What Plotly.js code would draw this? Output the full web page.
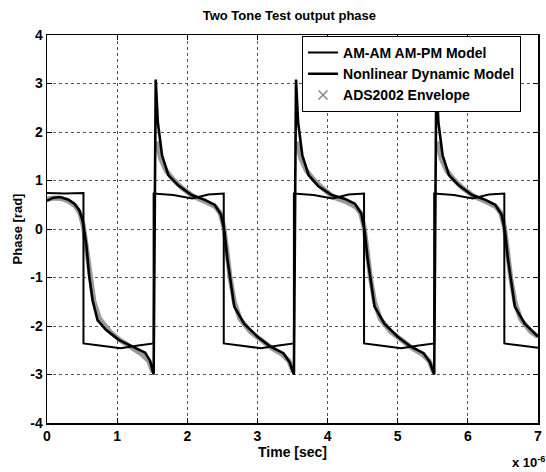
<!DOCTYPE html>
<html>
<head>
<meta charset="utf-8">
<script src="https://cdn.plot.ly/plotly-3.0.1.min.js"></script>
<style>html,body{margin:0;padding:0;background:#fff;}#chart{width:546px;height:472px;}</style>
</head>
<body>
<div id="chart"></div>
<script>
// Time in units of 1e-6 s
const amX = [0, 0.25, 0.52, 0.52, 0.75, 1.05, 1.30, 1.52, 1.52, 1.80, 2.07, 2.30, 2.52, 2.52, 2.75, 3.05, 3.30, 3.52, 3.52, 3.80, 4.07, 4.30, 4.52, 4.52, 4.75, 5.05, 5.30, 5.52, 5.52, 5.80, 6.07, 6.30, 6.52, 6.52, 6.75, 7.00];
const amY = [0.74, 0.73, 0.74, -2.36, -2.40, -2.46, -2.40, -2.36, 0.73, 0.70, 0.63, 0.71, 0.73, -2.36, -2.40, -2.46, -2.40, -2.36, 0.73, 0.70, 0.63, 0.71, 0.73, -2.36, -2.40, -2.46, -2.40, -2.36, 0.73, 0.70, 0.63, 0.71, 0.73, -2.36, -2.40, -2.45];

const nlX = [0, 0.08, 0.18, 0.30, 0.39, 0.46, 0.51, 0.56, 0.60, 0.65, 0.72, 0.84, 1.03, 1.22, 1.40, 1.47, 1.52,
  1.55, 1.58, 1.64, 1.73, 1.87, 2.06, 2.25, 2.39, 2.48, 2.53, 2.57, 2.62, 2.67, 2.81, 3.00, 3.18, 3.37, 3.46, 3.52,
  3.55, 3.58, 3.64, 3.73, 3.87, 4.06, 4.25, 4.39, 4.48, 4.53, 4.57, 4.62, 4.67, 4.81, 5.00, 5.18, 5.37, 5.46, 5.52,
  5.55, 5.58, 5.64, 5.73, 5.87, 6.06, 6.25, 6.39, 6.48, 6.53, 6.57, 6.62, 6.67, 6.81, 7.00];
const nlY = [0.58, 0.64, 0.66, 0.61, 0.52, 0.39, 0.16, -0.32, -0.95, -1.47, -1.88, -2.08, -2.29, -2.43, -2.55, -2.72, -3.00,
  3.08, 2.20, 1.52, 1.11, 0.90, 0.70, 0.60, 0.50, 0.30, -0.05, -0.60, -1.10, -1.60, -1.95, -2.22, -2.42, -2.56, -2.75, -3.00,
  3.08, 2.20, 1.52, 1.11, 0.88, 0.70, 0.62, 0.52, 0.32, -0.05, -0.60, -1.10, -1.60, -1.95, -2.22, -2.42, -2.56, -2.75, -3.00,
  3.08, 2.20, 1.52, 1.11, 0.90, 0.70, 0.60, 0.50, 0.30, -0.05, -0.60, -1.10, -1.60, -1.95, -2.22];

const adX = [0, 0.10, 0.20, 0.30, 0.40, 0.47, 0.52, 0.56, 0.61, 0.67, 0.75, 0.90, 1.05, 1.20, 1.35, 1.45, 1.51, null,
  1.56, 1.62, 1.70, 1.80, 1.93, 2.08, 2.25, 2.40, 2.47, 2.52, 2.56, 2.61, 2.67, 2.75, 2.90, 3.05, 3.20, 3.35, 3.45, 3.51, null,
  3.56, 3.62, 3.70, 3.80, 3.93, 4.08, 4.25, 4.40, 4.47, 4.52, 4.56, 4.61, 4.67, 4.75, 4.90, 5.05, 5.20, 5.35, 5.45, 5.51, null,
  5.56, 5.62, 5.70, 5.80, 5.93, 6.08, 6.25, 6.40, 6.47, 6.52, 6.56, 6.61, 6.67, 6.75, 6.90, 7.00];
const adY = [0.62, 0.64, 0.63, 0.58, 0.48, 0.33, 0.05, -0.40, -1.00, -1.50, -1.85, -2.12, -2.30, -2.45, -2.58, -2.72, -2.95, null,
  1.80, 1.45, 1.20, 1.02, 0.84, 0.68, 0.57, 0.46, 0.33, 0.05, -0.40, -1.00, -1.50, -1.85, -2.12, -2.30, -2.45, -2.58, -2.72, -2.95, null,
  1.80, 1.45, 1.20, 1.02, 0.84, 0.66, 0.57, 0.46, 0.33, 0.05, -0.40, -1.00, -1.50, -1.85, -2.12, -2.30, -2.45, -2.58, -2.72, -2.95, null,
  1.80, 1.45, 1.20, 1.02, 0.84, 0.68, 0.57, 0.46, 0.33, 0.05, -0.40, -1.00, -1.50, -1.85, -2.12, -2.22];

const seriesNames = ["AM-AM AM-PM Model", "Nonlinear Dynamic Model", "ADS2002 Envelope"];
const xTicks = [0, 1, 2, 3, 4, 5, 6, 7];
const yTicks = [-4, -3, -2, -1, 0, 1, 2, 3, 4];

const FONT = "Liberation Sans, Arial, Helvetica, sans-serif";

const traces = [
  {x: adX, y: adY, mode: "lines", line: {color: "#9a9a9a", width: 5}, showlegend: false, hoverinfo: "skip", connectgaps: false},
  {x: amX, y: amY, mode: "lines", name: seriesNames[0], line: {color: "#000", width: 2}},
  {x: nlX, y: nlY, mode: "lines", name: seriesNames[1], line: {color: "#000", width: 2.6}},
  {x: [null], y: [null], mode: "markers", name: seriesNames[2], marker: {symbol: "x-thin-open", size: 9, color: "#888", line: {color: "#888", width: 1.5}}}
];

const axisCommon = {
  showline: true, linecolor: "#000", linewidth: 1.5, mirror: "ticks",
  ticks: "inside", ticklen: 5, tickcolor: "#000",
  showgrid: true, gridcolor: "#555", griddash: "dot", gridwidth: 1,
  zeroline: false,
  tickfont: {family: FONT, size: 14, color: "#000", weight: "bold"}
};

const layout = {
  width: 546, height: 472,
  margin: {l: 47, r: 8, t: 35, b: 49},
  paper_bgcolor: "#fff", plot_bgcolor: "#fff",
  font: {family: FONT, color: "#000"},
  title: {text: "Two Tone Test output phase", x: 0.53, xanchor: "center", y: 0.968, yanchor: "middle",
          font: {family: FONT, size: 13, color: "#000", weight: "bold"}},
  xaxis: Object.assign({}, axisCommon, {
    range: [0, 7], tickvals: xTicks, ticktext: xTicks.map(String),
    title: {text: "Time [sec]", standoff: 2, font: {family: FONT, size: 14, color: "#000", weight: "bold"}}
  }),
  yaxis: Object.assign({}, axisCommon, {
    range: [-4, 4], tickvals: yTicks, ticktext: yTicks.map(String),
    title: {text: "Phase [rad]", standoff: 4, font: {family: FONT, size: 13, color: "#000", weight: "bold"}}
  }),
  legend: {
    x: 0.519, y: 0.998, xanchor: "left", yanchor: "top",
    bgcolor: "#fff", bordercolor: "#000", borderwidth: 1.2,
    font: {family: FONT, size: 14, color: "#000", weight: "bold"},
    tracegroupgap: 0
  },
  annotations: [
    {xref: "paper", yref: "paper", x: 1.018, y: -0.1, xanchor: "right", yanchor: "middle", showarrow: false,
     text: "x 10<sup>-6</sup>", font: {family: FONT, size: 13, color: "#000", weight: "bold"}}
  ],
  showlegend: true
};

Plotly.newPlot("chart", traces, layout, {displayModeBar: false, staticPlot: true});
</script>
</body>
</html>
